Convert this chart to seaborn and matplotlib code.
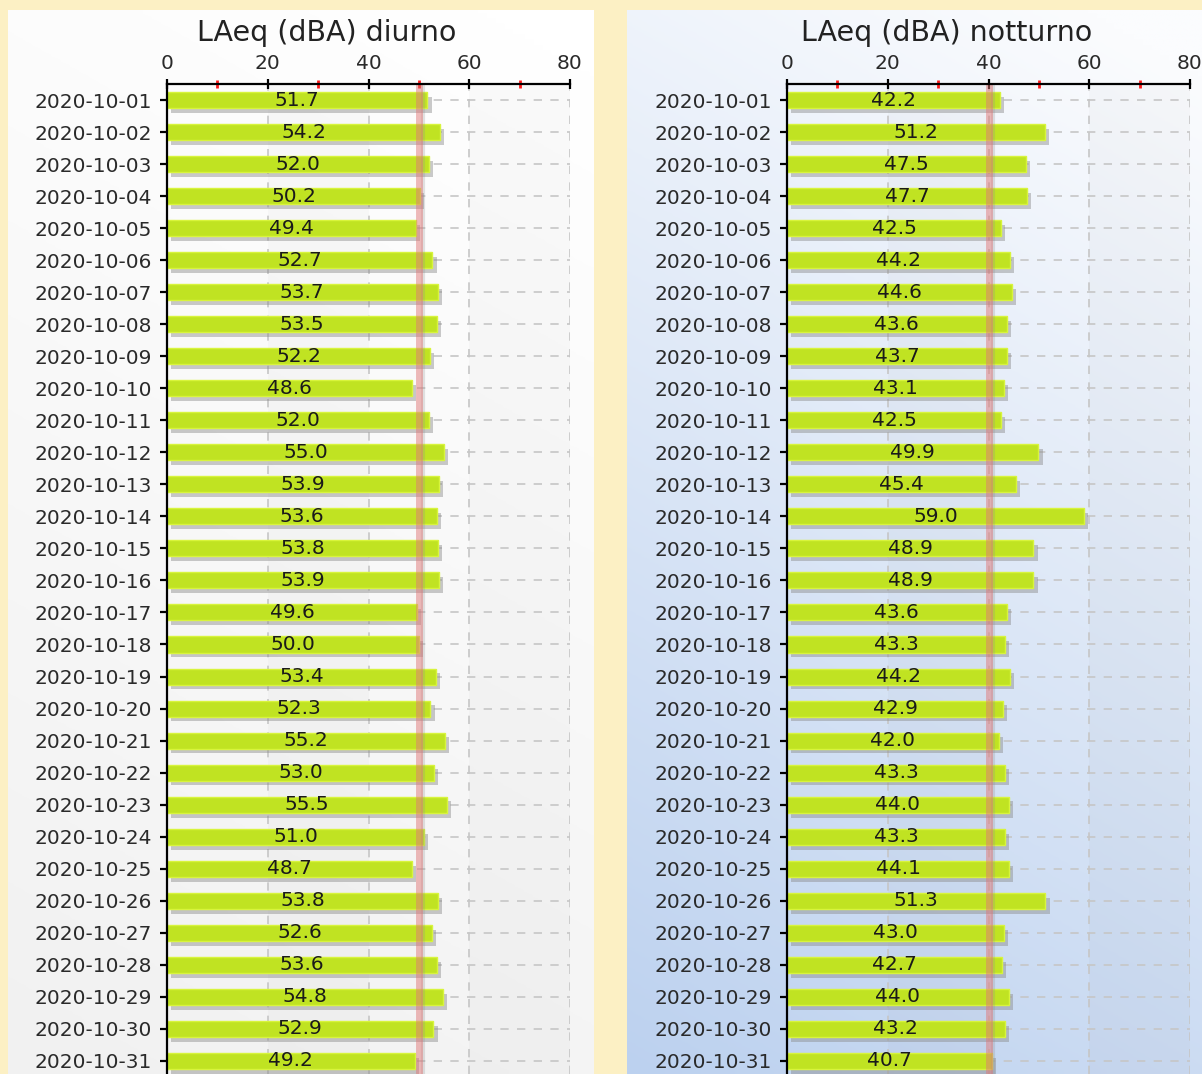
import numpy as np
import pandas as pd
import matplotlib
matplotlib.use("Agg")
import matplotlib.pyplot as plt
import matplotlib.patheffects as pe
from matplotlib.ticker import MultipleLocator
import seaborn as sns

# Daily LAeq values, October 2020
dates = list(pd.date_range("2020-10-01", "2020-10-31").strftime("%Y-%m-%d"))
diurno = [51.7, 54.2, 52.0, 50.2, 49.4, 52.7, 53.7, 53.5, 52.2, 48.6, 52.0,
          55.0, 53.9, 53.6, 53.8, 53.9, 49.6, 50.0, 53.4, 52.3, 55.2, 53.0,
          55.5, 51.0, 48.7, 53.8, 52.6, 53.6, 54.8, 52.9, 49.2]
notturno = [42.2, 51.2, 47.5, 47.7, 42.5, 44.2, 44.6, 43.6, 43.7, 43.1, 42.5,
            49.9, 45.4, 59.0, 48.9, 48.9, 43.6, 43.3, 44.2, 42.9, 42.0, 43.3,
            44.0, 43.3, 44.1, 51.3, 43.0, 42.7, 44.0, 43.2, 40.7]
titles = ["LAeq (dBA) diurno", "LAeq (dBA) notturno"]
limits = [50, 40]

sns.set_style("white")
plt.rcParams["font.family"] = ["DejaVu Sans"]

W, H = 1202, 1074
fig = plt.figure(figsize=(W / 100, H / 100), dpi=100)
fig.patch.set_facecolor("#FCF0C4")

BAR = "#C0E322"


def panel_background(rect, top_col, bottom_col):
    # diagonal gradient: light at top-right, darker at bottom-left
    bg = fig.add_axes(rect, zorder=-5)
    yy, xx = np.mgrid[0:1:200j, 0:1:200j]
    t = np.clip(0.8 * yy + 0.25 * (1 - xx) - 0.05, 0, 1)
    c0 = np.array(matplotlib.colors.to_rgb(top_col))
    c1 = np.array(matplotlib.colors.to_rgb(bottom_col))
    img = c0[None, None, :] * (1 - t[..., None]) + c1[None, None, :] * t[..., None]
    bg.imshow(img, extent=[0, 1, 0, 1], aspect="auto", origin="upper")
    bg.set_axis_off()


panel_background([8 / W, 0, (594 - 8) / W, 1 - 10 / H], "#FFFFFF", "#F1F1F1")
panel_background([627 / W, 0, (1202 - 627) / W, 1 - 10 / H], "#FBFCFE", "#BCD1EF")

axes_left = [167 / W, 787 / W]
title_x = [327 / W, 947 / W]
ax_w = 403 / W
ax_top = 1 - 84 / H

for k, (vals, title, lim) in enumerate(zip([diurno, notturno], titles, limits)):
    ax = fig.add_axes([axes_left[k], 0, ax_w, ax_top])
    ax.set_facecolor("none")
    df = pd.DataFrame({"date": dates, "laeq": vals})
    sns.barplot(data=df, x="laeq", y="date", orient="h", color=BAR,
                saturation=1, width=0.5, edgecolor="#D8F43C", linewidth=1,
                ax=ax, zorder=3)
    for p in ax.patches:
        p.set_path_effects([pe.SimplePatchShadow(offset=(3, -3.5),
                                                 shadow_rgbFace="#8a8a8a",
                                                 alpha=0.45),
                            pe.Normal()])

    for i, v in enumerate(vals):
        ax.text(v / 2, i, f"{v:.1f}", ha="center", va="center",
                fontsize=14.5, color="#1a1a1a", zorder=6)

    # alternating shaded bands
    for a, b in [(20, 40), (60, 80)]:
        ax.axvspan(a, b, color="black", alpha=0.02, zorder=0, lw=0)

    # threshold line
    ax.axvline(lim + 0.9, color="#909090", lw=3, alpha=0.25, zorder=4)
    ax.axvline(lim, color="#E07878", lw=5, alpha=0.5, zorder=5)

    ax.set_xlim(0, 80)
    ax.set_ylim(30.41, -0.5)
    ax.xaxis.tick_top()
    ax.xaxis.set_label_position("top")
    ax.set_xlabel("")
    ax.set_ylabel("")
    ax.xaxis.set_major_locator(MultipleLocator(20))
    ax.xaxis.set_minor_locator(MultipleLocator(10))

    ax.grid(True, which="major", axis="both", ls=(0, (5, 5)),
            color="#C6C6C6", lw=1.2)
    ax.set_axisbelow(True)

    for s in ["bottom", "right"]:
        ax.spines[s].set_visible(False)
    for s in ["top", "left"]:
        ax.spines[s].set_color("black")
        ax.spines[s].set_linewidth(1.6)
        ax.spines[s].set_zorder(7)

    ax.tick_params(axis="x", which="major", direction="inout", length=7,
                   width=1.6, color="black", pad=4.5, labelsize=14.5,
                   labelcolor="#2a2a2a", top=True, bottom=False)
    ax.tick_params(axis="x", which="minor", direction="inout", length=6,
                   width=2, color="#FF1a1a", top=True, bottom=False)
    ax.tick_params(axis="y", which="major", direction="inout", length=10,
                   width=1.6, color="black", pad=5.8, labelsize=14.5,
                   labelcolor="#2a2a2a", left=True)

    fig.text(title_x[k], 1 - 33 / H, title, ha="center", va="center",
             fontsize=20.5, color="#222222")

fig.savefig("out.png", dpi=100, facecolor=fig.get_facecolor())
